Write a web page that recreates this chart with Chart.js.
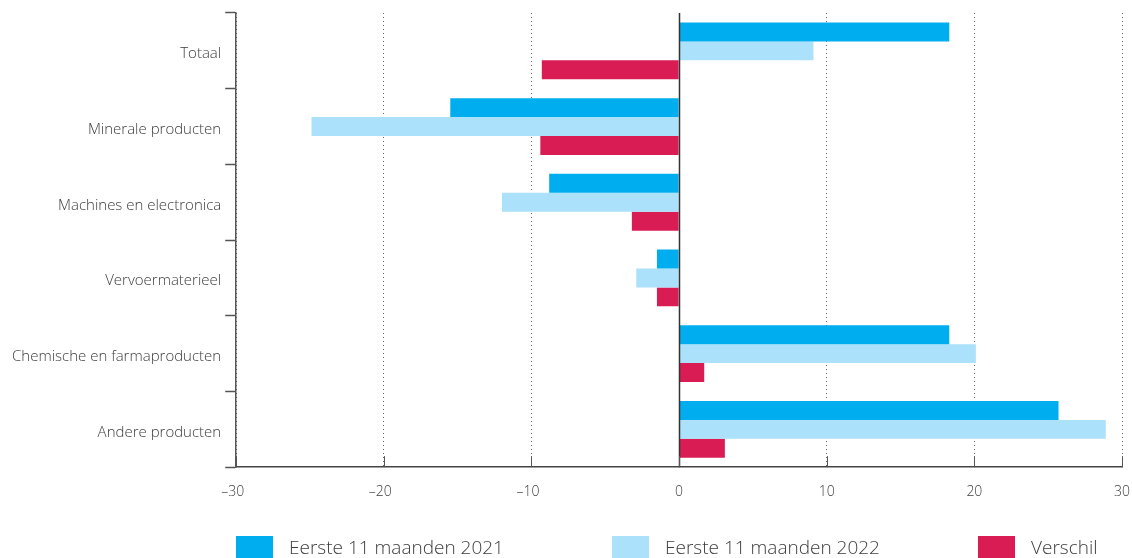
<!DOCTYPE html>
<html>
<head>
<meta charset="utf-8">
<script src="https://cdn.jsdelivr.net/npm/chart.js@4/dist/chart.umd.min.js"></script>
<style>
  body { margin: 0; background: #fff; font-family: "Open Sans", sans-serif; }
  #wrap { position: relative; width: 1132px; height: 558px; }
  .legend { position: absolute; top: 534px; display: flex; align-items: center; font-size: 19px; font-weight: 300; color: #3c3c3c; }
  .legend span.box { display: inline-block; width: 37px; height: 23px; margin-right: 16px; }
</style>
</head>
<body>
<div id="wrap">
  <canvas id="chart" width="1132" height="558"></canvas>
  <div class="legend" style="left:236px"><span class="box" style="background:#00aeef"></span>Eerste 11 maanden 2021</div>
  <div class="legend" style="left:612px"><span class="box" style="background:#abe1fa"></span>Eerste 11 maanden 2022</div>
  <div class="legend" style="left:978px"><span class="box" style="background:#da1c55"></span>Verschil</div>
</div>
<script>
const categories = ["Totaal", "Minerale producten", "Machines en electronica", "Vervoermaterieel", "Chemische en farmaproducten", "Andere producten"];
const months2021 = [18.3, -15.5, -8.8, -1.5, 18.3, 25.7];
const months2022 = [9.1, -24.9, -12.0, -2.9, 20.1, 28.9];
const verschil = [-9.3, -9.4, -3.2, -1.5, 1.7, 3.1];
const xTicks = [-30, -20, -10, 0, 10, 20, 30];

const textColor = "#3c3c3c";

// zero line and little inner ticks on the x axis
const axisExtras = {
    id: "axisExtras",
    afterDatasetsDraw(chart) {
        const ctx = chart.ctx;
        const x = chart.scales.x;
        const area = chart.chartArea;
        ctx.save();
        ctx.strokeStyle = "#333";
        ctx.lineWidth = 1.5;
        const zx = Math.round(x.getPixelForValue(0)) + 0.5;
        ctx.beginPath();
        ctx.moveTo(zx, area.top);
        ctx.lineTo(zx, area.bottom);
        ctx.stroke();
        ctx.lineWidth = 1;
        ctx.strokeStyle = "#555";
        xTicks.forEach(v => {
            const px = Math.round(x.getPixelForValue(v)) + 0.5;
            ctx.beginPath();
            ctx.moveTo(px, area.bottom);
            ctx.lineTo(px, area.bottom - 11);
            ctx.stroke();
        });
        ctx.restore();
    }
};

new Chart(document.getElementById("chart"), {
    type: "bar",
    data: {
        labels: categories,
        datasets: [
            { label: "Eerste 11 maanden 2021", data: months2021, backgroundColor: "#00aeef" },
            { label: "Eerste 11 maanden 2022", data: months2022, backgroundColor: "#abe1fa" },
            { label: "Verschil", data: verschil, backgroundColor: "#da1c55" }
        ]
    },
    options: {
        indexAxis: "y",
        responsive: false,
        animation: false,
        categoryPercentage: 0.75,
        barPercentage: 1.0,
        layout: { padding: { top: 13, right: 10, bottom: 42, left: 8 } },
        plugins: { legend: { display: false }, tooltip: { enabled: false } },
        scales: {
            x: {
                min: -30,
                max: 30,
                afterBuildTicks: axis => { axis.ticks = xTicks.map(v => ({ value: v })); },
                afterFit: axis => { axis.paddingLeft = 0; axis.paddingRight = 0; },
                grid: {
                    drawTicks: false,
                    color: ctx => (ctx.tick && ctx.tick.value === 0) ? "transparent" : "#666",
                    lineWidth: 1
                },
                border: { display: true, color: "#444", width: 1.5, dash: [1, 3] },
                ticks: {
                    padding: 16,
                    color: textColor,
                    font: { family: "Open Sans", size: 14, weight: 300 },
                    callback: v => v < 0 ? "\u2013" + Math.abs(v) + "\u2002" : String(v)
                }
            },
            y: {
                grid: {
                    offset: true,
                    drawOnChartArea: false,
                    drawTicks: true,
                    tickLength: 11,
                    tickColor: "#555",
                    tickWidth: 1.5
                },
                border: { display: true, color: "#555", width: 1.5 },
                ticks: {
                    padding: 4,
                    labelOffset: 3,
                    color: textColor,
                    font: { family: "Open Sans", size: 15, weight: 300 }
                }
            }
        }
    },
    plugins: [axisExtras]
});
</script>
</body>
</html>
